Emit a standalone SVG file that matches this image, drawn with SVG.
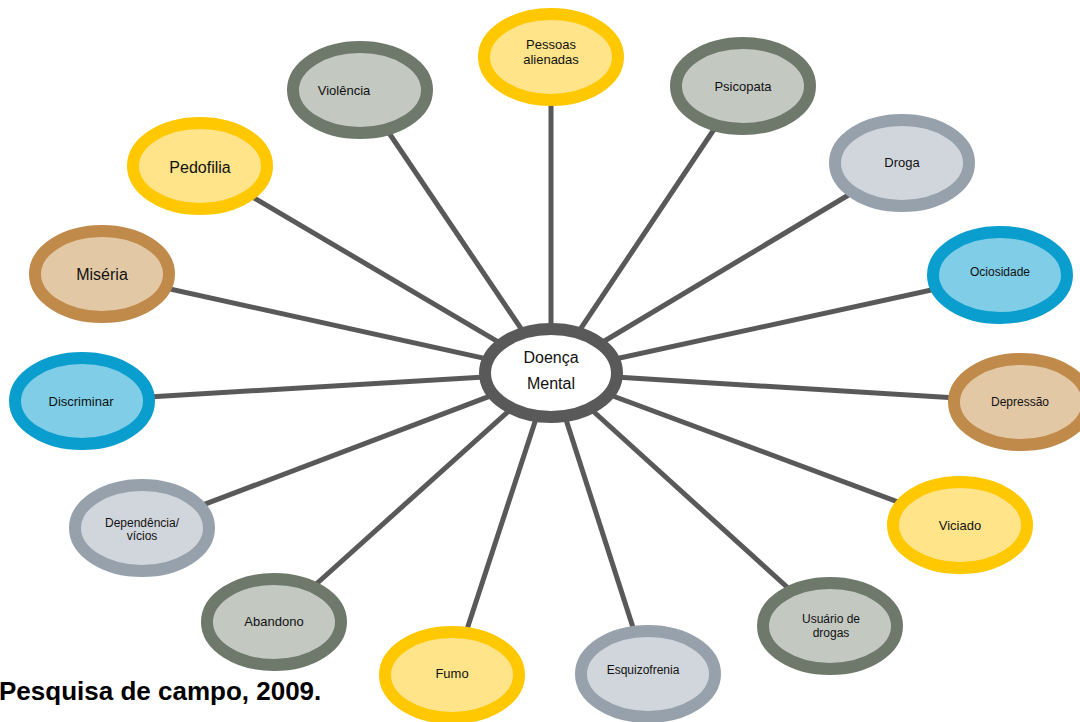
<svg xmlns="http://www.w3.org/2000/svg" width="1080" height="722" viewBox="0 0 1080 722">
<style>
.lk{stroke:#595959;stroke-width:5;fill:none}
.n{stroke-width:12}
.y{fill:#FFE48A;stroke:#FFC800}
.g{fill:#C3C8C1;stroke:#6E786B}
.b{fill:#D1D6DC;stroke:#97A1AC}
.c{fill:#7FCDE6;stroke:#0A9ECF}
.r{fill:#E3C8A6;stroke:#C08A4A}
text{font-family:"Liberation Sans",Arial,sans-serif;fill:#111;text-anchor:middle}
.s12{font-size:12px}.s13{font-size:13px}.s16{font-size:16px}
</style>
<rect width="1080" height="722" fill="#fff"/>
<g id="connectors">
<line class="lk" x1="551" y1="373" x2="551" y2="57"/>
<line class="lk" x1="551" y1="373" x2="360" y2="90"/>
<line class="lk" x1="551" y1="373" x2="743" y2="86"/>
<line class="lk" x1="551" y1="373" x2="200" y2="166"/>
<line class="lk" x1="551" y1="373" x2="902" y2="163"/>
<line class="lk" x1="551" y1="373" x2="102" y2="274"/>
<line class="lk" x1="551" y1="373" x2="1000" y2="275"/>
<line class="lk" x1="551" y1="373" x2="82" y2="401"/>
<line class="lk" x1="551" y1="373" x2="1021" y2="402"/>
<line class="lk" x1="551" y1="373" x2="142" y2="528"/>
<line class="lk" x1="551" y1="373" x2="960" y2="525"/>
<line class="lk" x1="551" y1="373" x2="274" y2="622"/>
<line class="lk" x1="551" y1="373" x2="830" y2="626"/>
<line class="lk" x1="551" y1="373" x2="452" y2="675"/>
<line class="lk" x1="551" y1="373" x2="648" y2="674"/>
</g>
<g id="pessoas"><ellipse class="n y" cx="551" cy="57" rx="67" ry="43"/><text class="s13" x="551" y="48.5">Pessoas</text><text class="s13" x="551" y="63.5">alienadas</text></g>
<g id="violencia"><ellipse class="n g" cx="360" cy="90" rx="67" ry="43"/><text class="s13" x="344" y="94.5">Violência</text></g>
<g id="psicopata"><ellipse class="n g" cx="743" cy="86" rx="67" ry="43"/><text class="s13" x="743" y="90.5">Psicopata</text></g>
<g id="pedofilia"><ellipse class="n y" cx="200" cy="166" rx="67" ry="43"/><text class="s16" x="200" y="172.5">Pedofilia</text></g>
<g id="droga"><ellipse class="n b" cx="902" cy="163" rx="67" ry="43"/><text class="s13" x="902" y="166.5">Droga</text></g>
<g id="miseria"><ellipse class="n r" cx="102" cy="274" rx="67" ry="43"/><text class="s16" x="102" y="279.5">Miséria</text></g>
<g id="ociosidade"><ellipse class="n c" cx="1000" cy="275" rx="67" ry="43"/><text class="s12" x="1000" y="276">Ociosidade</text></g>
<g id="discriminar"><ellipse class="n c" cx="82" cy="401" rx="67" ry="43"/><text class="s13" x="81" y="405.5">Discriminar</text></g>
<g id="depressao"><ellipse class="n r" cx="1021" cy="402" rx="67" ry="43"/><text class="s12" x="1020" y="406">Depressão</text></g>
<g id="dependencia"><ellipse class="n b" cx="142" cy="528" rx="67" ry="43"/><text class="s12" x="142" y="527">Dependência/</text><text class="s12" x="142" y="540">vícios</text></g>
<g id="viciado"><ellipse class="n y" cx="960" cy="525" rx="67" ry="43"/><text class="s13" x="960" y="529.5">Viciado</text></g>
<g id="abandono"><ellipse class="n g" cx="274" cy="622" rx="67" ry="43"/><text class="s13" x="274" y="625.5">Abandono</text></g>
<g id="usuario"><ellipse class="n g" cx="830" cy="626" rx="67" ry="43"/><text class="s12" x="831" y="623">Usuário de</text><text class="s12" x="831" y="637">drogas</text></g>
<g id="fumo"><ellipse class="n y" cx="452" cy="675" rx="67" ry="43"/><text class="s13" x="452" y="677.5">Fumo</text></g>
<g id="esquizofrenia"><ellipse class="n b" cx="648" cy="674" rx="67" ry="43"/><text class="s12" x="643" y="674">Esquizofrenia</text></g>
<g id="center"><ellipse cx="551" cy="373" rx="66" ry="44" fill="#fff" stroke="#595959" stroke-width="12"/><text class="s16" x="551" y="362.5">Doença</text><text class="s16" x="551" y="388.5">Mental</text></g>
<text x="-1" y="700" style="font-size:26px;font-weight:bold;text-anchor:start;fill:#000">Pesquisa de campo, 2009.</text>
</svg>
